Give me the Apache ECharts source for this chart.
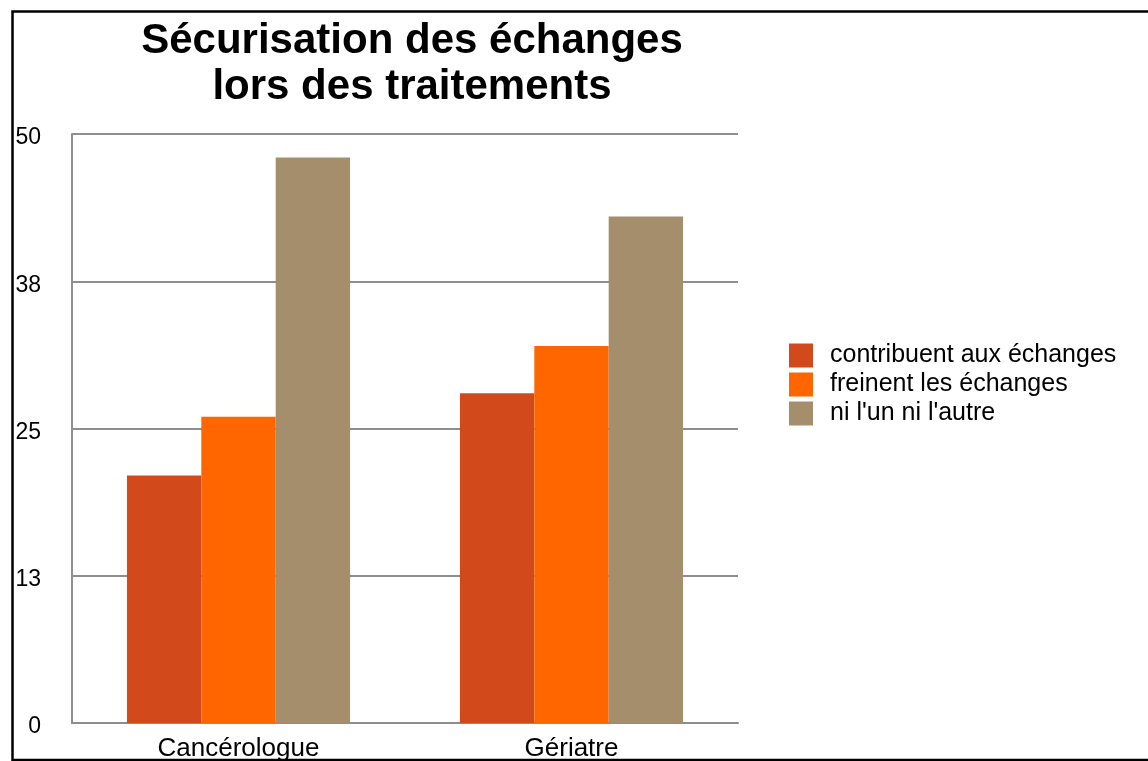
<!DOCTYPE html>
<html>
<head>
<meta charset="utf-8">
<script src="https://cdn.jsdelivr.net/npm/echarts@6/dist/echarts.min.js"></script>
<style>
  html, body { margin: 0; padding: 0; background: #fff; }
  #chart { width: 1148px; height: 761px; }
</style>
</head>
<body>
<div id="chart"></div>
<script>
const categories = ['Cancérologue', 'Gériatre']
const seriesNames = ['contribuent aux échanges', 'freinent les échanges', "ni l'un ni l'autre"]
const contribuent = [21, 28]
const freinent = [26, 32]
const niLUnNiLAutre = [48, 43]
const yTickValues = [0, 12.5, 25, 37.5, 50]
const yTickLabels = ['0', '13', '25', '38', '50']

const colors = ['#D24A1B', '#FF6600', '#A58E6B']
const gray = '#8e8e8e'
const font = '"Liberation Sans", Arial, sans-serif'

const chart = echarts.init(document.getElementById('chart'))

const option = {
  backgroundColor: '#fff',
  animation: false,
  title: {
    text: 'Sécurisation des échanges\nlors des traitements',
    left: 407,
    top: 13,
    textAlign: 'center',
    textStyle: {
      fontFamily: font,
      fontWeight: 'bold',
      fontSize: 42,
      lineHeight: 46,
      color: '#000'
    }
  },
  legend: {
    orient: 'vertical',
    left: 784,
    top: 338,
    itemWidth: 24,
    itemHeight: 24,
    itemGap: 4,
    icon: 'rect',
    data: seriesNames,
    textStyle: {
      fontFamily: font,
      fontSize: 25,
      lineHeight: 24,
      color: '#000',
      padding: [0, 0, 0, 12]
    }
  },
  grid: {
    left: 72,
    right: 410,
    top: 134,
    bottom: 38,
    containLabel: false,
    outerBoundsMode: 'none'
  },
  xAxis: {
    type: 'category',
    data: categories,
    axisLine: { lineStyle: { color: gray, width: 2 } },
    axisTick: { show: false },
    axisLabel: {
      fontFamily: font,
      fontSize: 26,
      color: '#000',
      margin: 13
    }
  },
  yAxis: {
    type: 'value',
    min: 0,
    max: 50,
    interval: 12.5,
    axisLine: { show: true, lineStyle: { color: gray, width: 2 } },
    axisTick: { show: false },
    splitLine: { lineStyle: { color: gray, width: 2 } },
    axisLabel: {
      fontFamily: font,
      fontSize: 23,
      color: '#000',
      align: 'right',
      verticalAlign: 'top',
      lineHeight: 8,
      margin: 31,
      formatter: v => yTickLabels[yTickValues.indexOf(v)] ?? String(Math.round(v))
    }
  },
  series: [
    { name: seriesNames[0], type: 'bar', data: contribuent, itemStyle: { color: colors[0] }, barGap: 0, barCategoryGap: '33%' },
    { name: seriesNames[1], type: 'bar', data: freinent, itemStyle: { color: colors[1] } },
    { name: seriesNames[2], type: 'bar', data: niLUnNiLAutre, itemStyle: { color: colors[2] } }
  ],
  graphic: [
    {
      type: 'rect',
      shape: { x: 12.5, y: 11.5, width: 1150, height: 748.5 },
      style: { fill: 'none', stroke: '#000', lineWidth: 2.5 },
      z: 100
    }
  ]
}

chart.setOption(option)
</script>
</body>
</html>
